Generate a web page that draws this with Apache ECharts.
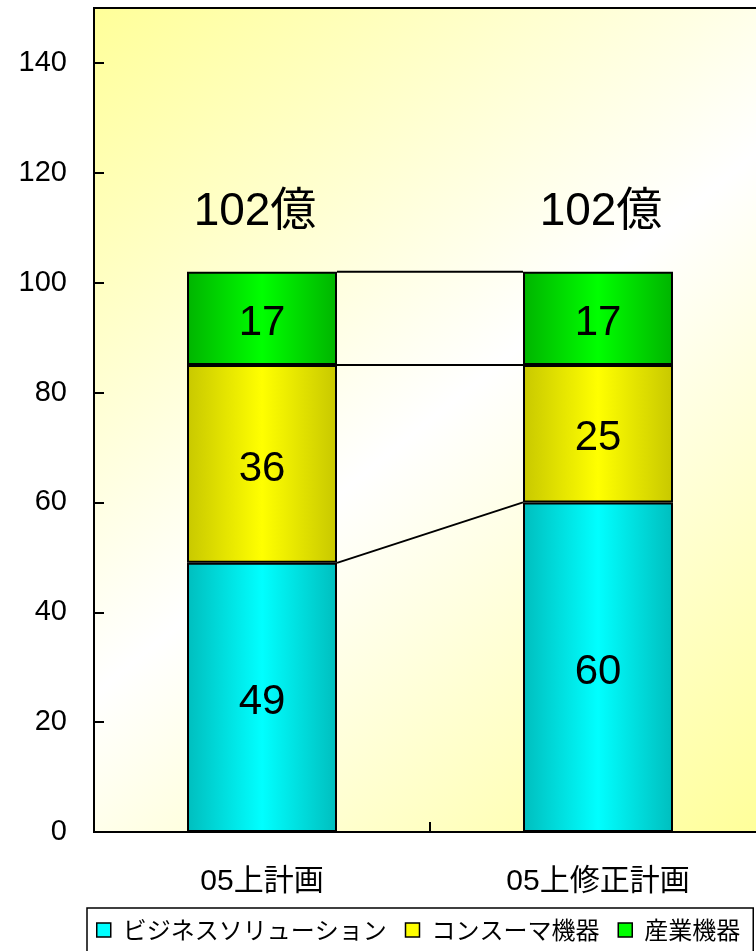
<!DOCTYPE html>
<html>
<head>
<meta charset="utf-8">
<script src="https://cdn.jsdelivr.net/npm/echarts@6/dist/echarts.min.js"></script>
<style>
html,body{margin:0;padding:0;background:#fff;}
#chart{width:756px;height:951px;}
</style>
</head>
<body>
<div id="chart"></div>
<script>
// ---- data ----
const categories = ['05上計画', '05上修正計画'];
const seriesNames = ['ビジネスソリューション', 'コンスーマ機器', '産業機器'];
const business = [49, 60];
const consumer = [36, 25];
const industrial = [17, 17];
const yTicks = [0, 20, 40, 60, 80, 100, 120, 140];
const totalSuffix = '億';

// ---- derived ----
const stacks = [business, consumer, industrial];
const totals = categories.map((_, i) => stacks.reduce((s, arr) => s + arr[i], 0));
// cumulative boundaries for the series lines
const boundaries = stacks.map((_, k) =>
  categories.map((_, i) => stacks.slice(0, k + 1).reduce((s, arr) => s + arr[i], 0)));
const connectorData = boundaries.map(b => [0, b[0], b[1]]);

// ---- style ----
const BAR_W = 150;
const NUM_FONT = "'Liberation Sans', Arial, sans-serif";
const CJK_FONT = "'Liberation Sans', 'Noto Sans CJK JP', sans-serif";
const TOTAL_LABEL_SHIFT = [-7, 3];
function grad(edge, mid) {
  return {type: 'linear', x: 0, y: 0, x2: 1, y2: 0,
    colorStops: [{offset: 0, color: edge}, {offset: 0.5, color: mid}, {offset: 1, color: edge}]};
}
const fills = [grad('#00BEBE', '#00FFFF'), grad('#C8C800', '#FFFF00'), grad('#00B400', '#00FF00')];
const solid = ['#00FFFF', '#FFFF00', '#00FF00'];

const chart = echarts.init(document.getElementById('chart'), null, {renderer: 'canvas'});

const barSeries = stacks.map((arr, k) => ({
  name: seriesNames[k],
  type: 'bar',
  stack: 'total',
  barWidth: BAR_W,
  data: arr,
  itemStyle: {color: fills[k], borderColor: '#000', borderWidth: 2},
  label: {show: true, position: 'inside', offset: [0, 5], fontSize: 42, fontFamily: NUM_FONT, color: '#000'},
  z: 3
}));

const option = {
  animation: false,
  backgroundColor: '#fff',
  grid: {
    left: 94, top: 8, right: -10, bottom: 119,
    show: true,
    borderColor: '#000', borderWidth: 2,
    backgroundColor: {type: 'linear', x: 0, y: 0, x2: 1, y2: 1,
      colorStops: [{offset: 0, color: '#FFFF99'}, {offset: 0.5, color: '#FFFFFF'}, {offset: 1, color: '#FFFF99'}]},
    outerBoundsMode: 'none',
    containLabel: false
  },
  legend: {
    data: seriesNames.map((n, k) => ({name: n, itemStyle: {color: solid[k], borderColor: '#000', borderWidth: 1.5}})),
    left: 87, top: 908,
    orient: 'horizontal',
    padding: [10, 13, 40, 9],
    borderColor: '#000', borderWidth: 1.5,
    icon: 'rect',
    itemWidth: 14, itemHeight: 14,
    itemGap: 18,
    textStyle: {fontSize: 24, fontFamily: "'Noto Sans CJK JP', sans-serif", color: '#000', padding: [0, 0, 0, 7]}
  },
  xAxis: {
    type: 'category',
    data: categories,
    axisLine: {lineStyle: {color: '#000', width: 2}},
    axisTick: {show: true, inside: true, length: 10, lineStyle: {color: '#000', width: 2}},
    axisLabel: {fontSize: 30, fontFamily: CJK_FONT, color: '#000', margin: 35},
    splitLine: {show: false}
  },
  yAxis: {
    type: 'value',
    min: yTicks[0], max: 150, interval: yTicks[1] - yTicks[0],
    axisLine: {show: true, lineStyle: {color: '#000', width: 2}},
    axisTick: {show: true, inside: true, length: 10, lineStyle: {color: '#000', width: 2}},
    axisLabel: {fontSize: 29, fontFamily: NUM_FONT, color: '#000', margin: 27, showMaxLabel: false},
    splitLine: {show: false}
  },
  series: [
    ...barSeries,
    {
      name: 'total',
      type: 'bar',
      barWidth: BAR_W,
      barGap: '-100%',
      data: totals.map((v, i) => ({value: v, label: {offset: [TOTAL_LABEL_SHIFT[i], 0]}})),
      itemStyle: {color: 'rgba(0,0,0,0)', borderWidth: 0},
      label: {show: true, position: 'top', distance: 36, fontSize: 46, fontFamily: CJK_FONT, color: '#000',
        formatter: p => p.value + totalSuffix},
      z: 1,
      silent: true
    },
    {
      name: 'connectors',
      type: 'custom',
      data: connectorData,
      encode: {x: 0, y: 1},
      z: 4,
      renderItem: function (params, api) {
        const p1 = api.coord([0, api.value(1)]);
        const p2 = api.coord([1, api.value(2)]);
        return {
          type: 'line',
          shape: {x1: p1[0] + BAR_W / 2, y1: p1[1], x2: p2[0] - BAR_W / 2, y2: p2[1]},
          style: {stroke: '#000', lineWidth: 2}
        };
      }
    }
  ]
};
chart.setOption(option);
</script>
</body>
</html>
